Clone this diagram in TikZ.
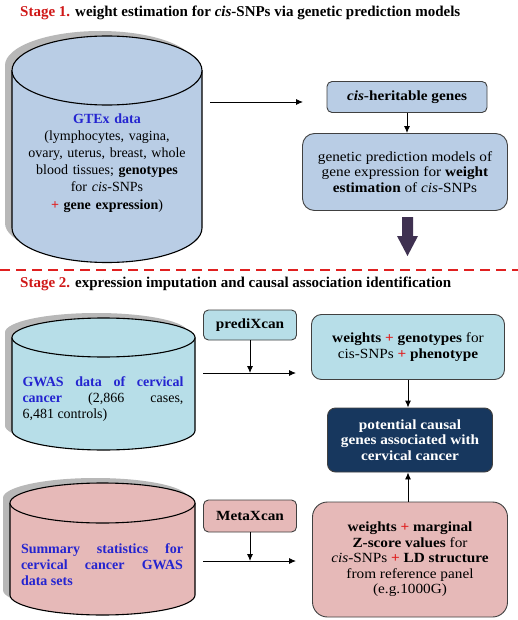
\documentclass[tikz,border=0pt]{standalone}
\usepackage{fontspec}
\setmainfont{Liberation Serif}
\newfontfamily\widefont[FakeStretch=1.09]{Liberation Serif}
\usetikzlibrary{arrows.meta}
\definecolor{bluegray}{HTML}{B9CDE5}
\definecolor{cyanlight}{HTML}{B7DEE8}
\definecolor{pinkfill}{HTML}{E6B9B8}
\definecolor{navy}{HTML}{17375E}
\definecolor{stagered}{HTML}{D01818}
\definecolor{plusred}{HTML}{E02020}
\definecolor{textblue}{HTML}{2424D0}
\definecolor{bigarrow}{HTML}{3F3151}
\definecolor{shadowgray}{HTML}{B8B8B8}
\newcommand\mycyl[6]{%
  \pgfmathsetmacro\myrx{(#2-#1)/2}
  \begin{scope}[shift={(-7,-5)}]
    \path[fill=shadowgray] (#1,#3) -- (#1,#4) arc[start angle=180,end angle=360,x radius=\myrx pt,y radius=#5pt] -- (#2,#3) -- cycle;
    \path[fill=shadowgray] ({(#1+#2)/2},#3) ellipse[x radius=\myrx pt,y radius=#5pt];
  \end{scope}
  \path[fill=#6,draw=black,line width=1.1pt] (#1,#3) -- (#1,#4) arc[start angle=180,end angle=360,x radius=\myrx pt,y radius=#5pt] -- (#2,#3);
  \path[fill=#6,draw=black,line width=1.1pt] ({(#1+#2)/2},#3) ellipse[x radius=\myrx pt,y radius=#5pt];
}
\tikzset{
  arr/.style={-{Latex[length=7pt,width=6pt]},line width=0.9pt},
  box/.style={draw=black!75,line width=0.9pt,align=center,inner sep=2pt,font=\widefont\fontsize{14}{15.5}\selectfont},
  body/.style={font=\fontsize{14}{16}\selectfont},
  titlefont/.style={font=\bfseries\fontsize{15}{17}\selectfont},
}
\begin{document}
\begin{tikzpicture}[x=1pt,y=-1pt]
\useasboundingbox[fill=white] (0,0) rectangle (518,620);
% Titles
\node[titlefont,anchor=base west,inner sep=0pt] (t1) at (20,17) {\textcolor{stagered}{Stage 1.} weight estimation for \textit{cis}-SNPs via genetic prediction models};
\node[titlefont,anchor=base west,inner sep=0pt] (t2) at (20,287) {\textcolor{stagered}{Stage 2.} expression imputation and causal association identification};
\draw[plusred,line width=1.5pt,dash pattern=on 10pt off 6pt] (0,270) -- (518,270);
% Stage 1
\mycyl{12}{202}{70.5}{228}{34.5}{bluegray}
\node[text width=190pt,align=center,font=\fontsize{14}{17}\selectfont] (gtex) at (107,163) {\textcolor{textblue}{\bfseries GTEx data}\\ (lymphocytes, vagina,\\ ovary, uterus, breast, whole\\ blood tissues; \textbf{genotypes}\\ for \textit{cis}-SNPs\\[1pt] \textcolor{plusred}{\textbf{+}} \textbf{gene expression})};
\coordinate (a1s) at (210,102);
\coordinate (a1e) at (303,102);
\draw[arr] (a1s) -- (a1e);
\node[box,fill=bluegray,minimum width=160pt,minimum height=31pt,rounded corners=5pt] (cish) at (407,97) {\textbf{\textit{cis}-heritable genes}};
\node[box,fill=bluegray,minimum width=205pt,minimum height=77pt,rounded corners=12pt] (gpm) at (405,172) {genetic prediction models of\\ gene expression for \textbf{weight}\\ \textbf{estimation} of \textit{cis}-SNPs};
\draw[arr] (cish.south) -- (cish.south |- gpm.north);
\fill[bigarrow] (402,217) -- (413,217) -- (413,236) -- (418,236) -- (407.5,256) -- (397,236) -- (402,236) -- cycle;
% Stage 2
\mycyl{12}{195}{337.5}{430.5}{19.5}{cyanlight}
\node[body,inner sep=0pt] (gwas) at (103,399) {\parbox{161pt}{\hyphenpenalty=10000\textcolor{textblue}{\bfseries GWAS data of cervical\linebreak cancer} (2,866 cases,\linebreak 6,481 controls)}};
\node[box,fill=cyanlight,minimum width=93pt,minimum height=30pt,rounded corners=5pt] (pred) at (250,325) {\textbf{prediXcan}};
\coordinate (h1s) at (203,373);
\coordinate (h1e) at (296,373);
\draw[arr] (h1s) -- (h1e);
\draw[arr] (pred.south) -- (pred.south |- h1s);
\node[box,fill=cyanlight,minimum width=193pt,minimum height=65pt,rounded corners=10pt] (wg) at (408,347) {\textbf{weights} \textcolor{plusred}{\textbf{+}} \textbf{genotypes} for\\ cis-SNPs \textcolor{plusred}{\textbf{+}} \textbf{phenotype}};
\node[box,fill=navy,text=white,minimum width=165pt,minimum height=64pt,rounded corners=8pt] (pc) at (410,440) {\textbf{potential causal}\\ \textbf{genes associated with}\\ \textbf{cervical cancer}};
\draw[arr] (wg.south) -- (wg.south |- pc.north);
\mycyl{10}{195}{503}{595}{20}{pinkfill}
\node[body,inner sep=0pt] (sumst) at (102,565) {\parbox{162pt}{\hyphenpenalty=10000\textcolor{textblue}{\bfseries Summary statistics for\linebreak cervical cancer GWAS\linebreak data sets}}};
\node[box,fill=pinkfill,minimum width=93pt,minimum height=32pt,rounded corners=5pt] (meta) at (250,516) {\textbf{MetaXcan}};
\coordinate (h2s) at (203,561);
\coordinate (h2e) at (296,561);
\draw[arr] (h2s) -- (h2e);
\draw[arr] (meta.south) -- (meta.south |- h2s);
\node[box,fill=pinkfill,minimum width=195pt,minimum height=115pt,rounded corners=15pt] (ld) at (410,559.5) {\textbf{weights} \textcolor{plusred}{\textbf{+}} \textbf{marginal}\\ \textbf{Z-score values} for\\ \textit{cis}-SNPs \textcolor{plusred}{\textbf{+}} \textbf{LD structure}\\ from reference panel\\ (e.g.1000G)};
\draw[arr] (ld.north -| wg.south) -- (pc.south -| wg.south);
\end{tikzpicture}
\end{document}
